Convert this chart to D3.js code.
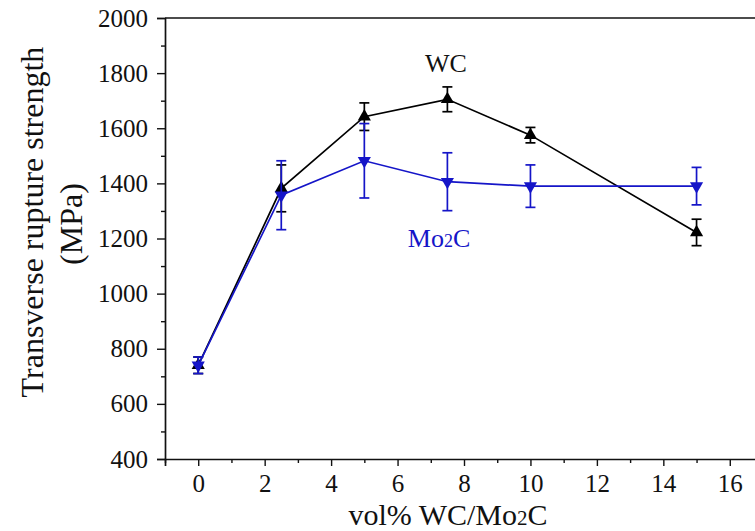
<!DOCTYPE html>
<html>
<head>
<meta charset="utf-8">
<script src="https://cdn.jsdelivr.net/npm/d3@7"></script>
<style>
  html, body { margin: 0; padding: 0; background: #fff; }
  svg { display: block; }
  text { font-family: "Liberation Serif", "Times New Roman", serif; }
</style>
</head>
<body>
<svg id="chart" width="755" height="531"></svg>
<script>
// ---- data ----
const xValues = [0, 2.5, 5, 7.5, 10, 15];
const wcValues = [740, 1382, 1642, 1705, 1575, 1222];
const wcErrors = [30, 85, 50, 45, 28, 48];
const mo2cValues = [740, 1357, 1482, 1406, 1390, 1390];
const mo2cErrors = [30, 125, 135, 105, 77, 68];
const xTicks = [0, 2, 4, 6, 8, 10, 12, 14, 16];
const xMinorTicks = [-1, 1, 3, 5, 7, 9, 11, 13, 15, 17];
const yTicks = [400, 600, 800, 1000, 1200, 1400, 1600, 1800, 2000];
const yMinorTicks = [500, 700, 900, 1100, 1300, 1500, 1700, 1900];

const svg = d3.select("#chart");
const x = d3.scaleLinear().domain([-1, 17]).range([165, 763]);
const y = d3.scaleLinear().domain([400, 2000]).range([459, 18]);

const axisColor = "#111";
// frame top & right
svg.append("line").attr("x1", x(-1)).attr("x2", x(17)).attr("y1", y(2000)).attr("y2", y(2000))
  .attr("stroke", axisColor).attr("stroke-width", 1.7);
svg.append("line").attr("x1", x(17)).attr("x2", x(17)).attr("y1", y(2000)).attr("y2", y(400))
  .attr("stroke", axisColor).attr("stroke-width", 1.7);

// x axis
svg.append("g").attr("transform", `translate(0,${y(400)})`)
  .call(d3.axisBottom(x).tickValues(xTicks).tickSize(7).tickPadding(8).tickFormat(d3.format("d")));
svg.append("g").attr("transform", `translate(0,${y(400)})`)
  .call(d3.axisBottom(x).tickValues(xMinorTicks).tickSize(4).tickFormat(""))
  .select(".domain").remove();
// y axis
svg.append("g").attr("transform", `translate(${x(-1)},0)`)
  .call(d3.axisLeft(y).tickValues(yTicks).tickSize(8).tickPadding(9).tickFormat(d3.format("d")));
svg.append("g").attr("transform", `translate(${x(-1)},0)`)
  .call(d3.axisLeft(y).tickValues(yMinorTicks).tickSize(4).tickFormat(""))
  .select(".domain").remove();

svg.selectAll(".domain").attr("stroke", axisColor).attr("stroke-width", 1.7);
svg.selectAll(".tick line").attr("stroke", axisColor).attr("stroke-width", 1.4);
svg.selectAll(".tick text").attr("font-size", 25).attr("fill", "#111");

// axis titles
svg.append("text").attr("transform", "translate(43,222) rotate(-90)")
  .attr("text-anchor", "middle").attr("font-size", 32).attr("fill", "#111")
  .text("Transverse rupture strength");
svg.append("text").attr("transform", "translate(82,224) rotate(-90)")
  .attr("text-anchor", "middle").attr("font-size", 32).attr("fill", "#111")
  .text("(MPa)");

const xt = svg.append("text").attr("x", 448).attr("y", 525).attr("text-anchor", "middle")
  .attr("font-size", 30).attr("fill", "#111");
xt.append("tspan").text("vol% WC/Mo");
xt.append("tspan").attr("font-size", 21).text("2");
xt.append("tspan").text("C");

// series
function drawSeries(vals, errs, color, up) {
  const pts = xValues.map((d, i) => ({ x: d, y: vals[i], e: errs[i] }));
  const g = svg.append("g");
  g.append("path").datum(pts)
    .attr("d", d3.line().x(d => x(d.x)).y(d => y(d.y)))
    .attr("fill", "none").attr("stroke", color).attr("stroke-width", 1.7);
  const eb = g.selectAll(".eb").data(pts).enter().append("g");
  eb.append("line").attr("x1", d => x(d.x)).attr("x2", d => x(d.x))
    .attr("y1", d => y(d.y + d.e)).attr("y2", d => y(d.y - d.e))
    .attr("stroke", color).attr("stroke-width", 1.7);
  [1, -1].forEach(s => {
    eb.append("line").attr("x1", d => x(d.x) - 5).attr("x2", d => x(d.x) + 5)
      .attr("y1", d => y(d.y + s * d.e)).attr("y2", d => y(d.y + s * d.e))
      .attr("stroke", color).attr("stroke-width", 1.7);
  });
  const sym = d3.symbol().type(d3.symbolTriangle).size(75);
  g.selectAll(".m").data(pts).enter().append("path")
    .attr("d", sym)
    .attr("transform", d => `translate(${x(d.x)},${y(d.y)}) rotate(${up ? 0 : 180})`)
    .attr("fill", color);
}
drawSeries(wcValues, wcErrors, "#000", true);
drawSeries(mo2cValues, mo2cErrors, "#1515c8", false);

// labels
svg.append("text").attr("x", 446).attr("y", 72).attr("text-anchor", "middle")
  .attr("font-size", 26).attr("fill", "#111").text("WC");
const ml = svg.append("text").attr("x", 439).attr("y", 247).attr("text-anchor", "middle")
  .attr("font-size", 26).attr("fill", "#1515c8");
ml.append("tspan").text("Mo");
ml.append("tspan").attr("font-size", 18).text("2");
ml.append("tspan").text("C");
</script>
</body>
</html>
